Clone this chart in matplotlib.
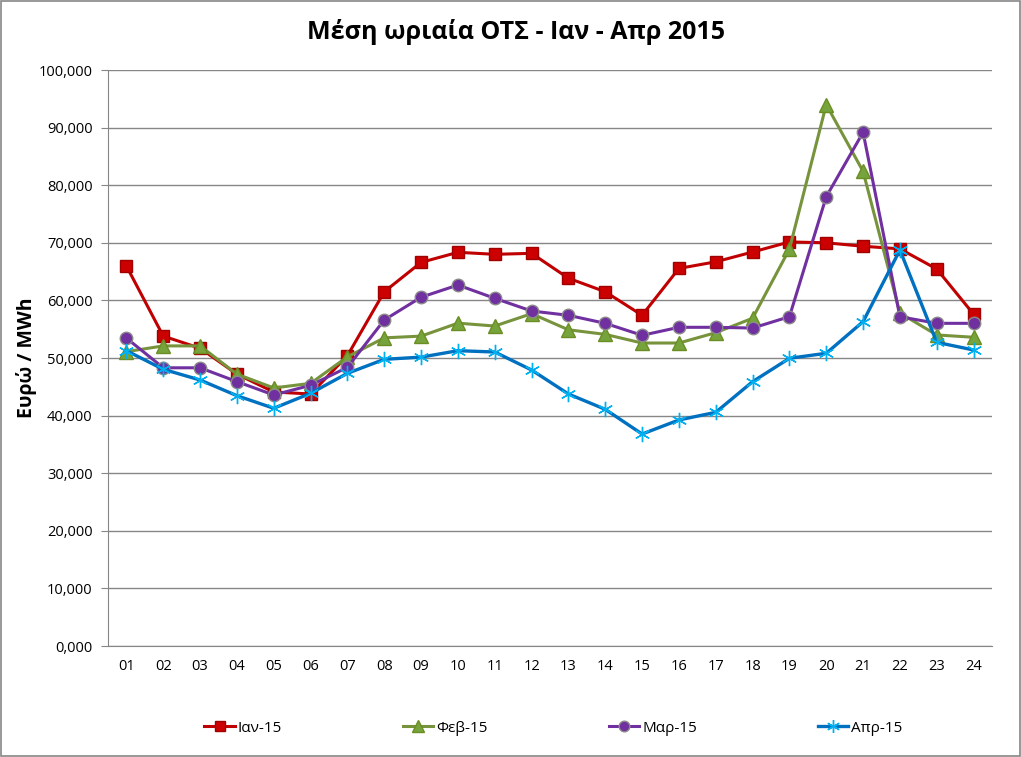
import matplotlib
matplotlib.use("Agg")
import matplotlib.pyplot as plt
from matplotlib.patches import Rectangle

plt.rcParams['font.family'] = ['Open Sans', 'DejaVu Sans']

hours = ["01", "02", "03", "04", "05", "06", "07", "08", "09", "10", "11", "12",
         "13", "14", "15", "16", "17", "18", "19", "20", "21", "22", "23", "24"]

jan = [65970, 53800, 51700, 47200, 44100, 43750, 50400, 61500, 66600, 68350, 68000, 68170,
       63850, 61500, 57420, 65550, 66700, 68400, 70150, 70000, 69400, 68950, 65450, 57600]
feb = [51100, 52100, 52100, 47200, 44800, 45600, 50200, 53500, 53800, 56050, 55550, 57700,
       54900, 54100, 52600, 52600, 54400, 56900, 68900, 94000, 82400, 57800, 54000, 53600]
mar = [53450, 48300, 48300, 45900, 43580, 45260, 48380, 56600, 60550, 62670, 60360, 58160,
       57410, 56020, 53940, 55330, 55330, 55200, 57170, 78000, 89180, 57170, 56020, 56020]
apr = [51270, 48040, 46180, 43460, 41270, 43870, 47340, 49770, 50150, 51270, 51040, 47920,
       43750, 41090, 36800, 39240, 40570, 45890, 49950, 50820, 56310, 68750, 52720, 51390]

series_names = ["Ιαν-15", "Φεβ-15", "Μαρ-15", "Απρ-15"]
yticks = list(range(0, 100001, 10000))
ytick_labels = ["0,000", "10,000", "20,000", "30,000", "40,000", "50,000",
                "60,000", "70,000", "80,000", "90,000", "100,000"]

fig = plt.figure(figsize=(10.21, 7.57), dpi=100)
ax = fig.add_axes([108/1021, 1-646/757, (992-108)/1021, (646-70)/757])

x = list(range(1, len(hours)+1))

ax.plot(x, jan, color="#C00000", lw=2.2, marker="s", ms=9, mfc="#CC0000",
        mec="#A00000", label=series_names[0], zorder=3)
ax.plot(x, feb, color="#77933C", lw=2.2, marker="^", ms=10, mfc="#77A33C",
        mec="#6B8E23", label=series_names[1], zorder=4)
ax.plot(x, mar, color="#7030A0", lw=2.2, marker="o", ms=9, mfc="#7030A0",
        mec="#8A8A8A", mew=1.0, label=series_names[2], zorder=5)
ax.plot(x, apr, color="#0070C0", lw=2.4, marker=(6, 2, 0), ms=11, mec="#00B0F0",
        mew=1.0, label=series_names[3], zorder=6)

ax.set_xlim(0.5, len(hours)+0.5)
ax.set_ylim(0, 100000)
ax.set_xticks(x)
ax.set_xticklabels(hours, fontsize=10.5)
ax.set_yticks(yticks)
ax.set_yticklabels(ytick_labels, fontsize=10.5)
ax.tick_params(axis='x', length=0, pad=9)
ax.tick_params(axis='y', length=5, color="#868686", pad=6)
ax.grid(axis='y', color="#868686", lw=1.0)
ax.set_axisbelow(True)
for s in ["top", "right"]:
    ax.spines[s].set_visible(False)
ax.spines["left"].set_color("#868686")
ax.spines["bottom"].set_color("#868686")

ax.set_ylabel("Ευρώ / MWh", fontsize=14, fontweight="bold", labelpad=1)
fig.suptitle("Μέση ωριαία ΟΤΣ - Ιαν - Απρ 2015", fontsize=18, fontweight="bold",
             y=0.975, x=0.505)

fig.legend(loc="center", bbox_to_anchor=(0.542, 0.038), ncol=4, frameon=False,
           fontsize=11, columnspacing=7.9, handlelength=2.0, handletextpad=0.2,
           markerscale=0.85)

fig.patches.append(Rectangle((0.001, 0.001), 0.998, 0.998, transform=fig.transFigure,
                             fill=False, edgecolor="#868686", lw=1.2))

fig.savefig("out.png", dpi=100)
